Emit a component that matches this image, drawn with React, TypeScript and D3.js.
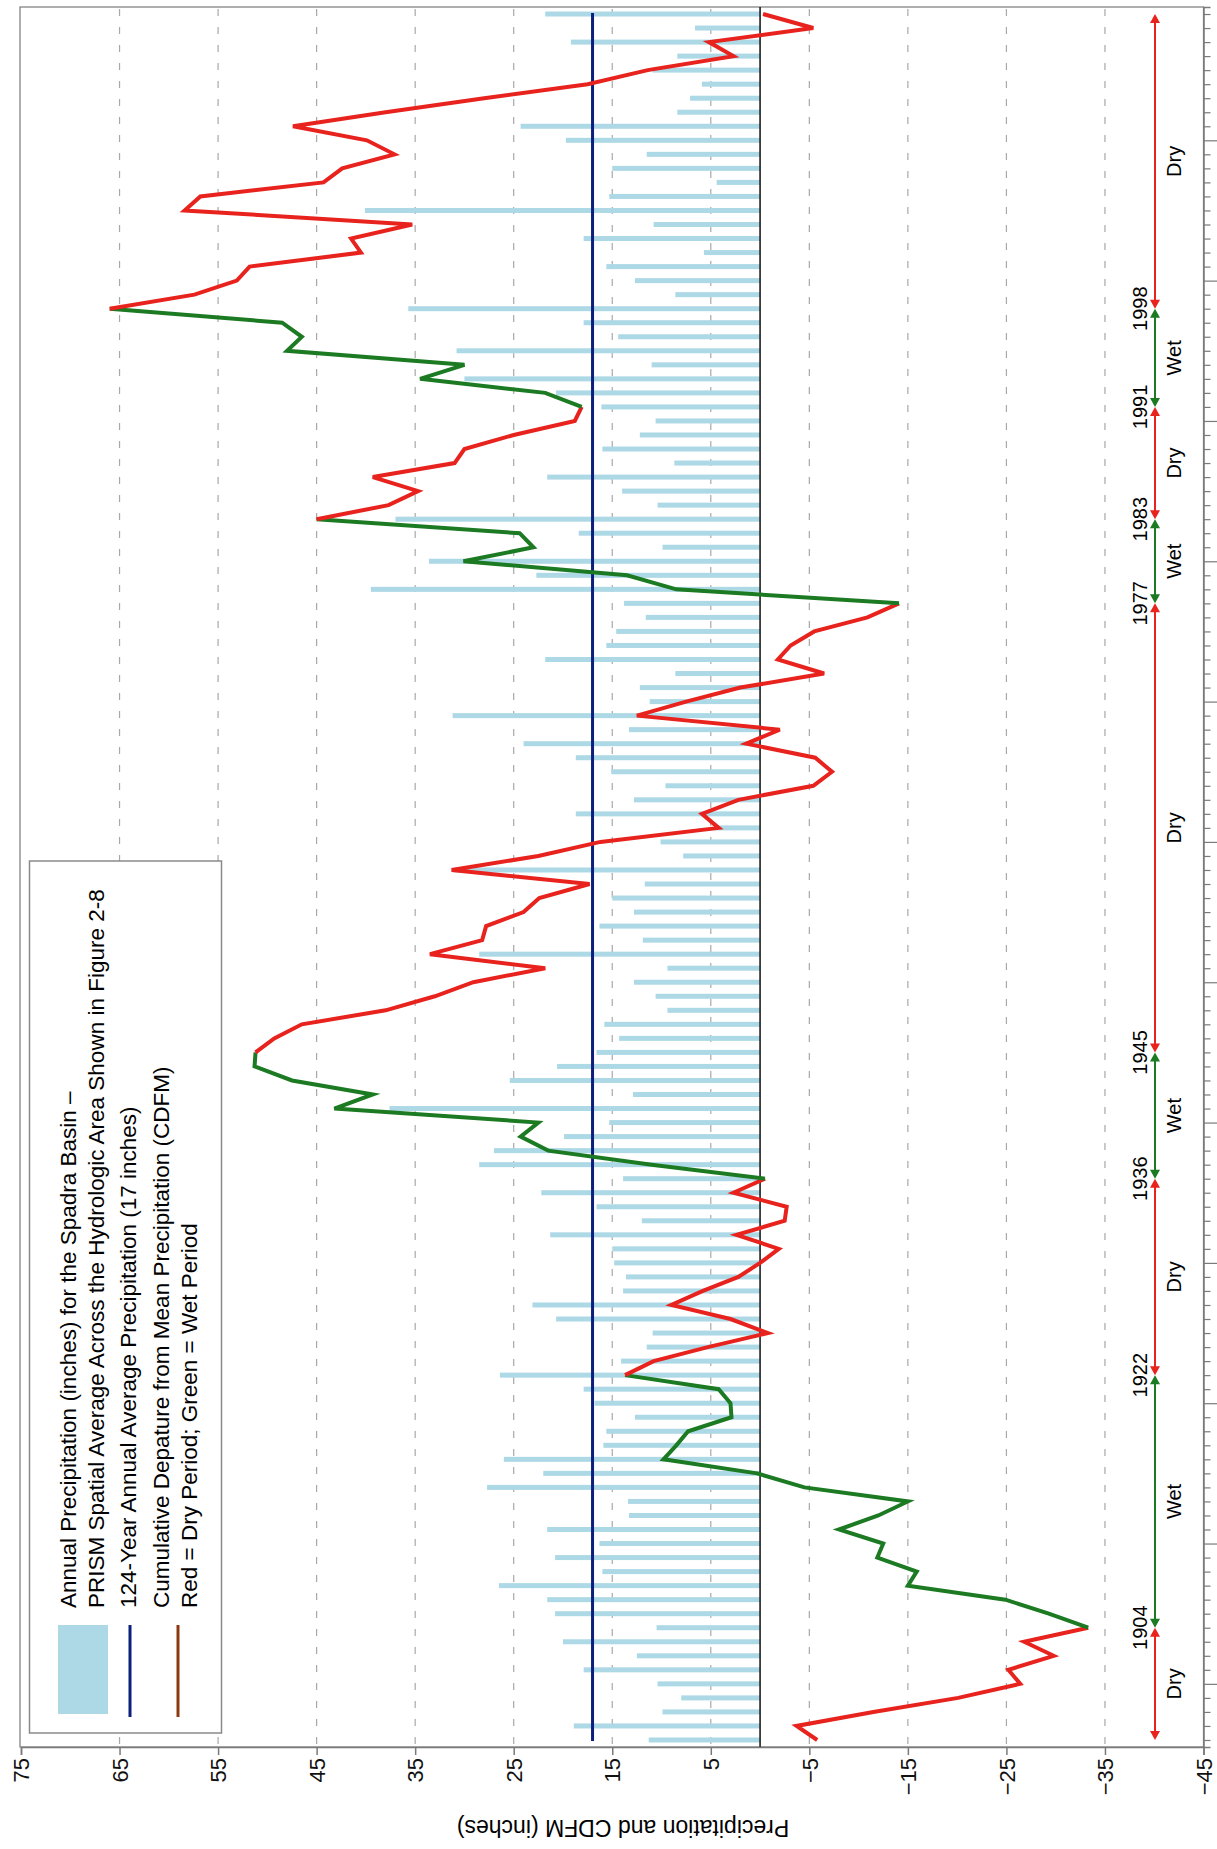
import * as d3 from "d3";
import { useEffect, useRef } from "react";

// water years shown on the (vertical) year axis
const firstYear = 1896;
const lastYear = 2019;

// annual precipitation, inches, 1896..2019
const precip = [
  11.3, 18.9, 9.9, 8.0, 10.4, 17.9, 12.5, 20.0, 10.5, 20.8,
  21.6, 26.5, 16.0, 20.8, 16.3, 21.6, 13.3, 13.4, 27.7, 22.0,
  26.0, 15.9, 15.6, 12.7, 16.8, 17.9, 26.4, 14.1, 11.5, 10.9,
  20.7, 23.1, 13.9, 13.6, 14.8, 15.0, 21.3, 12.0, 16.6, 22.2,
  13.9, 28.5, 27.0, 19.9, 15.3, 37.6, 12.9, 25.4, 20.6, 16.6,
  14.3, 15.8, 9.4, 10.6, 12.8, 9.4, 28.5, 11.9, 16.3, 12.8,
  15.0, 11.7, 31.0, 7.8, 10.1, 4.6, 18.7, 12.8, 9.6, 15.1,
  18.7, 24.0, 13.3, 31.2, 11.2, 12.2, 8.6, 21.8, 15.6, 14.6,
  11.6, 13.8, 39.5, 22.7, 33.6, 9.9, 18.4, 37.0, 10.4, 14.0,
  21.6, 8.7, 16.0, 12.2, 10.6, 16.1, 20.7, 30.0, 11.0, 30.8,
  14.4, 17.9, 35.7, 8.6, 12.7, 15.6, 5.7, 17.9, 10.8, 40.1,
  15.3, 4.4, 15.0, 11.5, 19.7, 24.3, 8.4, 7.1, 5.9, 10.9,
  8.4, 19.2, 6.6, 21.8,
];

// cumulative departure from mean precipitation, inches, 1896..2019
const cdfm = [
  -5.8, -3.7, -11.5, -20.1, -26.4, -25.2, -29.8, -26.8, -33.3, -29.3,
  -24.9, -15.0, -15.9, -11.9, -12.5, -8.0, -12.0, -15.0, -4.5, 0.3,
  9.8, 8.5, 7.3, 2.9, 3.0, 4.2, 13.7, 10.8, 5.3, -0.8,
  3.0, 9.0, 5.8, 2.2, 0.0, -1.9, 2.4, -2.5, -2.7, 2.7,
  -0.5, 11.0, 21.5, 24.3, 22.5, 43.2, 39.3, 47.5, 51.3, 51.2,
  49.3, 46.5, 38.0, 33.0, 29.1, 21.8, 33.5, 28.2, 27.8, 24.0,
  22.4, 17.3, 31.3, 22.5, 16.2, 4.2, 5.9, 2.2, -5.4, -7.3,
  -5.6, 1.4, -2.0, 12.5, 7.5, 2.0, -6.5, -1.8, -3.1, -5.5,
  -10.9, -14.1, 8.5, 13.5, 30.1, 23.0, 24.4, 45.0, 37.7, 34.7,
  39.3, 31.0, 30.0, 25.0, 18.8, 18.1, 21.8, 34.5, 30.0, 48.0,
  46.5, 48.5, 66.0, 57.4, 53.1, 51.8, 40.5, 41.5, 35.3, 58.4,
  56.8, 44.3, 42.4, 37.1, 39.9, 47.4, 38.0, 28.0, 17.5, 11.4,
  2.7, 5.2, -5.4, -0.3,
];

const meanPrecip = 17;

const periods = [
  { from: 1896, to: 1904, kind: "Dry" },
  { from: 1904, to: 1922, kind: "Wet" },
  { from: 1922, to: 1936, kind: "Dry" },
  { from: 1936, to: 1945, kind: "Wet" },
  { from: 1945, to: 1977, kind: "Dry" },
  { from: 1977, to: 1983, kind: "Wet" },
  { from: 1983, to: 1991, kind: "Dry" },
  { from: 1991, to: 1998, kind: "Wet" },
  { from: 1998, to: 2019, kind: "Dry" },
];
const boundaryYears = [1904, 1922, 1936, 1945, 1977, 1983, 1991, 1998];

const valueTicks = [75, 65, 55, 45, 35, 25, 15, 5, -5, -15, -25, -35, -45];
const gridValues = [65, 55, 45, 35, 25, 15, 5, -5, -15, -25, -35];

const legendPrecip = [
  "Annual Precipitation (inches) for the Spadra Basin \u2013",
  "PRISM Spatial Average Across the Hydrologic Area Shown in Figure 2-8",
];
const legendMean = "124-Year Annual Average Precipitation (17 inches)";
const legendCdfm = [
  "Cumulative Depature from Mean Precipitation (CDFM)",
  "Red = Dry Period; Green = Wet Period",
];
const axisTitle = "Precipitation and CDFM (inches)";

const DRY = "#e8231e";
const WET = "#1b7a22";
const BAR = "#add8e6";
const NAVY = "#0b1f7c";
const FONT = "'Liberation Sans', Arial, sans-serif";

const Chart = () => {
  const ref = useRef(null);

  useEffect(() => {
    document.body.style.margin = "0";
    const svg = d3.select(ref.current);
    svg.selectAll("*").remove();

    const years = d3.range(firstYear, lastYear + 1);
    const rows = years.map((yr, i) => ({ yr, p: precip[i], c: cdfm[i] }));

    // value axis runs horizontally (75 on the left), years run upward
    const x = d3.scaleLinear().domain([75, -45]).range([21, 1203.5]);
    const y = d3.scaleLinear().domain([1895.5, 2019.5]).range([1747, 7]);
    const left = 20, right = 1203.5, top = 7, bottom = 1747;

    svg.append("rect")
      .attr("x", left).attr("y", top)
      .attr("width", right - left).attr("height", bottom - top)
      .attr("fill", "white").attr("stroke", "#7a7a7a").attr("stroke-width", 1.2);

    // dashed grid
    svg.append("g").selectAll("line").data(gridValues).enter().append("line")
      .attr("x1", d => x(d)).attr("x2", d => x(d))
      .attr("y1", top + 2).attr("y2", bottom)
      .attr("stroke", "#a8a8a8").attr("stroke-width", 1.2)
      .attr("stroke-dasharray", "7,11");

    // precipitation bars
    svg.append("g").selectAll("rect").data(rows).enter().append("rect")
      .attr("x", d => x(d.p)).attr("y", d => y(d.yr) - 2.5)
      .attr("width", d => x(0) - x(d.p)).attr("height", 5)
      .attr("fill", BAR);

    // zero line
    svg.append("line")
      .attr("x1", x(0)).attr("x2", x(0)).attr("y1", top).attr("y2", bottom)
      .attr("stroke", "#111").attr("stroke-width", 1.5);

    // average line
    svg.append("line")
      .attr("x1", x(meanPrecip)).attr("x2", x(meanPrecip))
      .attr("y1", y(lastYear) - 1).attr("y2", y(firstYear) + 1)
      .attr("stroke", NAVY).attr("stroke-width", 3);

    // CDFM, coloured by period
    const line = d3.line().x(d => x(d.c)).y(d => y(d.yr));
    periods.forEach(p => {
      const seg = rows.filter(d => d.yr >= p.from && d.yr <= p.to);
      svg.append("path").datum(seg)
        .attr("d", line)
        .attr("fill", "none")
        .attr("stroke", p.kind === "Dry" ? DRY : WET)
        .attr("stroke-width", 4)
        .attr("stroke-linejoin", "miter");
    });

    // period arrows
    const ax = 1155;
    const arrows = svg.append("g");
    periods.forEach(p => {
      const col = p.kind === "Dry" ? DRY : WET;
      const y0 = y(p.from), y1 = y(p.to);
      arrows.append("line")
        .attr("x1", ax).attr("x2", ax).attr("y1", y0 - 6).attr("y2", y1 + 6)
        .attr("stroke", col).attr("stroke-width", 2);
      arrows.append("path")
        .attr("d", `M${ax},${y1} L${ax - 5},${y1 + 9} L${ax + 5},${y1 + 9} Z`)
        .attr("fill", col);
      arrows.append("path")
        .attr("d", `M${ax},${y0} L${ax - 5},${y0 - 9} L${ax + 5},${y0 - 9} Z`)
        .attr("fill", col);
      arrows.append("text")
        .attr("transform", `translate(${ax + 26},${y((p.from + p.to) / 2)}) rotate(-90)`)
        .attr("text-anchor", "middle")
        .style("font-family", FONT).style("font-size", "20px")
        .text(p.kind);
    });
    arrows.selectAll(".yr").data(boundaryYears).enter().append("text")
      .attr("transform", d => `translate(${ax - 8},${y(d)}) rotate(-90)`)
      .attr("text-anchor", "middle")
      .style("font-family", FONT).style("font-size", "20px")
      .text(d => d);

    // value axis (bottom)
    const gx = svg.append("g")
      .attr("transform", `translate(0,${bottom})`)
      .call(d3.axisBottom(x).tickValues(valueTicks).tickSize(8).tickFormat(d3.format("d")));
    gx.select(".domain").attr("stroke", "#7a7a7a").attr("stroke-width", 1.5);
    gx.selectAll(".tick line").attr("stroke", "#7a7a7a").attr("stroke-width", 1.5);
    gx.selectAll(".tick text")
      .attr("transform", "rotate(-90)")
      .attr("x", -11).attr("y", 0).attr("dy", "0.35em")
      .attr("text-anchor", "end")
      .style("font-family", FONT).style("font-size", "22px").attr("fill", "#111");

    // year axis (right), labels fall outside the page
    const gy = svg.append("g")
      .attr("transform", `translate(${right},0)`)
      .call(d3.axisRight(y).tickValues(years).tickSize(7).tickFormat(() => ""));
    gy.select(".domain").attr("stroke", "#7a7a7a").attr("stroke-width", 1.5);
    gy.selectAll(".tick line").attr("stroke", "#7a7a7a").attr("stroke-width", 1.2)
      .attr("x2", d => (d % 10 === 0 ? 14 : 7));

    svg.append("text")
      .attr("transform", `translate(623,1820) rotate(180)`)
      .attr("text-anchor", "middle")
      .style("font-family", FONT).style("font-size", "23px")
      .text(axisTitle);

    // legend
    const lg = svg.append("g");
    lg.append("rect")
      .attr("x", 29.5).attr("y", 861).attr("width", 192).attr("height", 872)
      .attr("fill", "white").attr("stroke", "#8a8a8a").attr("stroke-width", 1.5);
    lg.append("rect")
      .attr("x", 58).attr("y", 1625).attr("width", 50).attr("height", 89)
      .attr("fill", BAR);
    lg.append("line")
      .attr("x1", 130).attr("x2", 130).attr("y1", 1625).attr("y2", 1717)
      .attr("stroke", NAVY).attr("stroke-width", 3);
    lg.append("line")
      .attr("x1", 178).attr("x2", 178).attr("y1", 1625).attr("y2", 1717)
      .attr("stroke", "#8b3a10").attr("stroke-width", 3);
    const legendText = [
      { t: legendPrecip[0], bx: 76 },
      { t: legendPrecip[1], bx: 104 },
      { t: legendMean, bx: 136 },
      { t: legendCdfm[0], bx: 169 },
      { t: legendCdfm[1], bx: 197 },
    ];
    lg.selectAll(".lt").data(legendText).enter().append("text")
      .attr("transform", d => `translate(${d.bx},1608) rotate(-90)`)
      .style("font-family", FONT).style("font-size", "22.5px")
      .text(d => d.t);
  }, []);

  return (
    <svg ref={ref} width={1217} height={1849}
      style={{ position: "absolute", left: 0, top: 0, background: "white" }} />
  );
};

export default function App() {
  return <Chart />;
}
